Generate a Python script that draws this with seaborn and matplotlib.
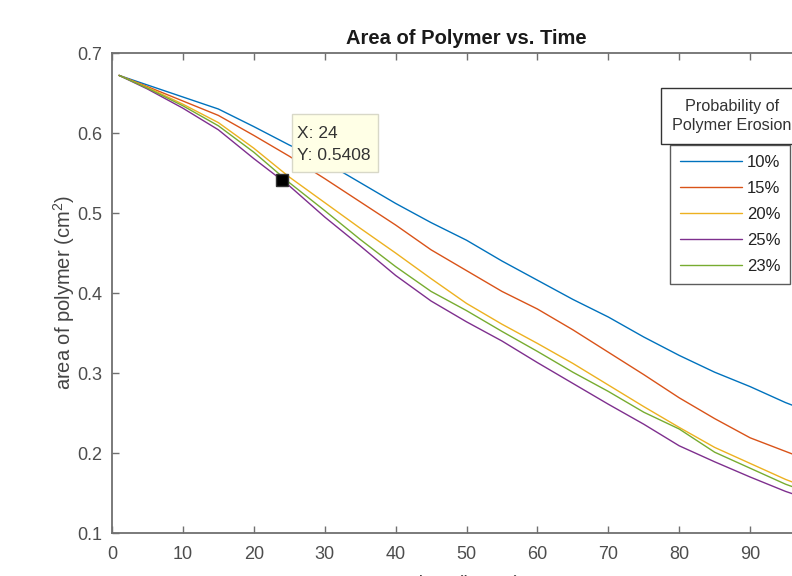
import matplotlib
matplotlib.use("Agg")
import matplotlib.pyplot as plt
import matplotlib.patches as mpatches
import numpy as np
import pandas as pd
import seaborn as sns

# ---------------- data ----------------
hours = [1, 5, 10, 15, 20, 25, 30, 35, 40, 45, 50, 55, 60, 65, 70, 75, 80, 85, 90, 95, 100]
area_p10 = [0.672, 0.660, 0.645, 0.630, 0.608, 0.585, 0.564, 0.538, 0.512, 0.488, 0.466,
            0.440, 0.416, 0.392, 0.370, 0.345, 0.322, 0.301, 0.283, 0.263, 0.246]
area_p15 = [0.672, 0.658, 0.640, 0.622, 0.597, 0.571, 0.543, 0.514, 0.485, 0.454, 0.428,
            0.402, 0.380, 0.354, 0.326, 0.298, 0.269, 0.243, 0.219, 0.202, 0.185]
area_p20 = [0.672, 0.657, 0.636, 0.613, 0.581, 0.545, 0.513, 0.481, 0.450, 0.418, 0.387,
            0.361, 0.337, 0.312, 0.285, 0.258, 0.232, 0.207, 0.187, 0.167, 0.150]
area_p25 = [0.672, 0.655, 0.631, 0.604, 0.568, 0.534, 0.495, 0.459, 0.422, 0.390, 0.364,
            0.340, 0.313, 0.287, 0.261, 0.236, 0.209, 0.189, 0.170, 0.152, 0.137]
area_p23 = [0.672, 0.656, 0.634, 0.609, 0.576, 0.538, 0.503, 0.467, 0.433, 0.402, 0.378,
            0.352, 0.327, 0.301, 0.277, 0.251, 0.230, 0.201, 0.181, 0.161, 0.145]
series_labels = ["10%", "15%", "20%", "25%", "23%"]
series_values = [area_p10, area_p15, area_p20, area_p25, area_p23]
cursor_x = 24
cursor_y = 0.5408
x_ticks = [0, 10, 20, 30, 40, 50, 60, 70, 80, 90, 100]
y_ticks = [0.1, 0.2, 0.3, 0.4, 0.5, 0.6, 0.7]

colors = ["#0072BD", "#D95319", "#EDB120", "#7E2F8E", "#77AC30"]

df = pd.concat(
    [pd.DataFrame({"hours": hours, "area": vals, "prob": lab})
     for lab, vals in zip(series_labels, series_values)],
    ignore_index=True,
)

# ---------------- style ----------------
sns.set_style("ticks")
plt.rcParams["font.family"] = ["Liberation Sans", "DejaVu Sans"]
plt.rcParams["mathtext.fontset"] = "custom"
plt.rcParams["mathtext.rm"] = "Liberation Sans"
plt.rcParams["mathtext.it"] = "Liberation Sans"

W, H = 792, 576
fig = plt.figure(figsize=(W / 100, H / 100), dpi=100)
ax = fig.add_axes([112 / W, 43 / H, 709 / W, 480 / H])

sns.lineplot(data=df, x="hours", y="area", hue="prob", hue_order=series_labels,
             palette=colors, linewidth=1.0, estimator=None, sort=False, ax=ax)

# data cursor (MATLAB datatip)
ax.plot([cursor_x], [cursor_y], marker="s", color="black", markersize=8.5,
        markeredgecolor="#333333", linestyle="none", zorder=5)
ax.add_patch(mpatches.Rectangle((25.39, 0.55125), 37.52 - 25.39, 0.62375 - 0.55125,
                                facecolor="#FFFFE6", edgecolor="#D8D8C8", lw=1, zorder=6))
ax.text(26.1, 0.600, f"X: {cursor_x}", ha="left", va="center", fontsize=12.5,
        color="#333333", zorder=7)
ax.text(26.1, 0.5725, f"Y: {cursor_y:.4f}", ha="left", va="center", fontsize=12.5,
        color="#333333", zorder=7)

ax.set_xlim(0, 100)
ax.set_ylim(0.1, 0.7)
ax.set_xticks(x_ticks)
ax.set_yticks(y_ticks)
ax.set_yticklabels([f"{v:.1f}" for v in y_ticks])
ax.set_xticklabels([str(v) for v in x_ticks])
ax.tick_params(axis="both", direction="in", top=True, right=True, length=5, width=1,
               color="#707070", labelcolor="#4d4d4d", labelsize=13)
ax.tick_params(axis="x", pad=9.5)
ax.tick_params(axis="y", pad=7)
for s in ax.spines.values():
    s.set_color("#707070")
    s.set_linewidth(1.3)

ax.set_title("Area of Polymer vs. Time", fontsize=14.5, fontweight="bold",
             color="#1a1a1a", pad=6.5)
ax.set_xlabel("time (hours)", fontsize=14.5, color="#444444", labelpad=8.5)
ax.set_ylabel("area of polymer (cm$^{2}$)", fontsize=14.5, color="#444444", labelpad=0)

# legend entries
handles, labels = ax.get_legend_handles_labels()
leg = ax.legend(handles, labels, loc="upper left",
                bbox_to_anchor=(670 / W, 1 - 145 / H), bbox_transform=fig.transFigure,
                borderaxespad=0, fontsize=12, handlelength=3.7, handletextpad=0.3,
                labelspacing=0.66, borderpad=0.6, frameon=True, fancybox=False)
leg.get_frame().set_edgecolor("#333333")
leg.get_frame().set_linewidth(1.0)
for t in leg.get_texts():
    t.set_color("#222222")

# legend title in its own box (MATLAB style)
fig.patches.append(mpatches.Rectangle((661 / W, 1 - 144 / H), 141 / W, 56 / H,
                                      transform=fig.transFigure, facecolor="white",
                                      edgecolor="#333333", lw=1.0, zorder=10))
fig.text(732 / W, 1 - 116 / H, "Probability of\nPolymer Erosion", ha="center",
         va="center", fontsize=11.7, color="#333333", multialignment="center",
         linespacing=1.4, zorder=11)

fig.savefig("out.png", dpi=100)
